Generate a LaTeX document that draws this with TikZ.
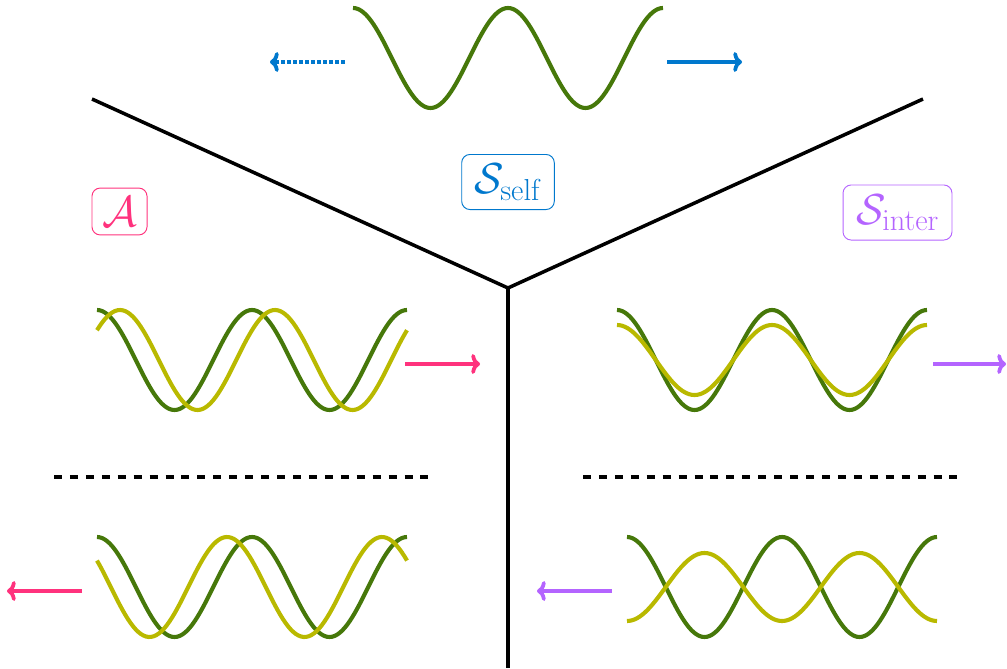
\RequirePackage{fix-cm}
\documentclass[tikz,border=0pt]{standalone}
\usetikzlibrary{arrows.meta}
\definecolor{wgreen}{RGB}{70,120,10}
\definecolor{wyellow}{RGB}{185,185,0}
\definecolor{cblue}{RGB}{0,120,205}
\definecolor{cpink}{RGB}{255,50,125}
\definecolor{cpurple}{RGB}{180,100,255}
\begin{document}
\begin{tikzpicture}[x=0.03cm,y=-0.03cm,
  wave/.style={line width=3.5pt},
  gwave/.style={wave,wgreen},
  ywave/.style={wave,wyellow},
  border/.style={line width=3pt,black},
  sep/.style={line width=3pt,black,dash pattern=on 6.8pt off 6.8pt},
  arr/.style={line width=3.2pt,-{To[length=7.5pt,width=17pt]}},
  dotarr/.style={arr,dash pattern=on 3.4pt off 1.7pt},
  lab/.style={draw,line width=0.8pt,rounded corners=7pt,inner sep=0pt,
    font=\fontsize{37}{44}\selectfont},
]
\useasboundingbox (0,0) rectangle (1007,668);
% borders
\coordinate (c) at (508,288);
\coordinate (tl) at (92,99);
\coordinate (tr) at (923,99);
\coordinate (bo) at (508,668);
\draw[border,line join=miter] (tl) -- (c) -- (tr);
\draw[border] (c) -- (bo);
% labels
\node[lab,cblue,minimum width=79pt,minimum height=47pt] (self) at (508,182) {$\mathcal{S}_{\mathrm{self}}$};
\node[lab,cpink,minimum width=47pt,minimum height=40pt] (alab) at (119.5,211.5) {$\mathcal{A}$};
\node[lab,cpurple,minimum width=93pt,minimum height=47pt] (inter) at (897.5,212.5) {$\mathcal{S}_{\mathrm{inter}}$};
% top wave
\draw[gwave] plot[domain=353:663,samples=121] (\x,{58-50*cos((\x-353)/155*360)});
\coordinate (t1) at (345,62); \coordinate (t2) at (270,62);
\coordinate (t3) at (667,62); \coordinate (t4) at (742,62);
\draw[dotarr,cblue] (t1) -- (t2);
\draw[arr,cblue] (t3) -- (t4);
% middle left
\draw[gwave] plot[domain=97:407,samples=121] (\x,{360-50*cos((\x-97)/155*360)});
\draw[ywave] plot[domain=97:407,samples=121] (\x,{360-50*cos((\x-120)/155*360)});
\coordinate (ml1) at (405,364); \coordinate (ml2) at (480,364);
\draw[arr,cpink] (ml1) -- (ml2);
% middle right
\draw[gwave] plot[domain=617:927,samples=121] (\x,{360-50*cos((\x-617)/155*360)});
\draw[ywave] plot[domain=617:927,samples=121] (\x,{360-35*cos((\x-617)/155*360)});
\coordinate (mr1) at (933,364); \coordinate (mr2) at (1006,364);
\draw[arr,cpurple] (mr1) -- (mr2);
% separators
\coordinate (s1) at (54,477); \coordinate (s2) at (430,477);
\coordinate (s3) at (583,477); \coordinate (s4) at (960,477);
\draw[sep] (s1) -- (s2);
\draw[sep] (s3) -- (s4);
% bottom left
\draw[gwave] plot[domain=97:407,samples=121] (\x,{587-50*cos((\x-97)/155*360)});
\draw[ywave] plot[domain=97:407,samples=121] (\x,{587-50*cos((\x-227)/155*360)});
\coordinate (bl1) at (82,591); \coordinate (bl2) at (7,591);
\draw[arr,cpink] (bl1) -- (bl2);
% bottom right
\draw[gwave] plot[domain=627:937,samples=121] (\x,{587-50*cos((\x-627)/155*360)});
\draw[ywave] plot[domain=627:937,samples=121] (\x,{587+34*cos((\x-627)/155*360)});
\coordinate (br1) at (612,591); \coordinate (br2) at (537,591);
\draw[arr,cpurple] (br1) -- (br2);
\end{tikzpicture}
\end{document}
